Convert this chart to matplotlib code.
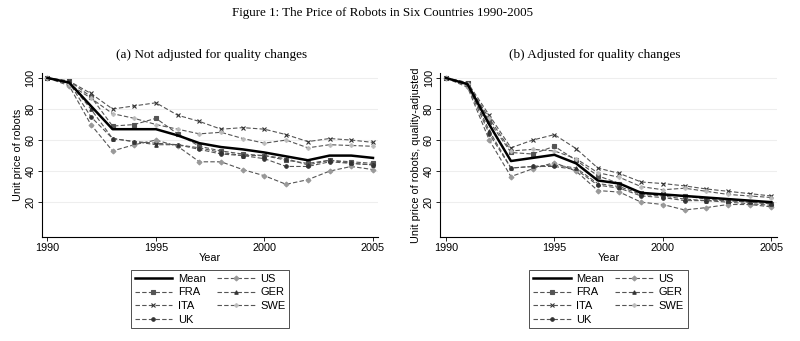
import matplotlib.pyplot as plt
import numpy as np

plt.rcParams['font.family'] = ['Liberation Sans', 'DejaVu Sans']

years = np.arange(1990, 2006)
labels = ["Mean", "FRA", "ITA", "UK", "US", "GER", "SWE"]

# (a) not adjusted
a_mean = [100, 97, 82, 67, 67, 67, 63, 58, 55.5, 54, 52, 49.5, 47, 50, 50, 48.5]
a_fra = [100, 98, 88, 69, 70, 74, 64, 56, 53, 51, 50, 47, 45, 47, 46, 45]
a_ita = [100, 98, 90, 80, 82, 84, 76, 72, 67, 68, 67, 63.5, 59, 61, 60, 58.5]
a_uk = [100, 97, 75, 61, 59, 58, 57, 54, 51, 50, 48, 43, 43, 46, 45, 44]
a_us = [100, 95, 70, 53, 57, 60, 56, 46, 46, 41, 37, 31.5, 34.5, 40, 43, 41]
a_ger = [100, 97, 80, 61, 59, 57, 57, 55, 52, 50, 50, 48, 44, 47, 45, 44]
a_swe = [100, 96, 87, 77, 74, 70, 67, 64, 65, 61, 58, 60, 55, 57, 56.5, 56]

# (b) adjusted
b_mean = [100, 96, 70, 46.5, 48.5, 50.5, 45, 34, 32, 26, 25, 24, 23, 22, 21, 20]
b_fra = [100, 97, 72, 52, 51, 56, 47, 37, 32, 26, 25, 24, 22, 21, 20, 19]
b_ita = [100, 97, 76, 55, 60, 63.5, 54.5, 42, 38.5, 33, 32, 30.5, 28.5, 27, 25.5, 24]
b_uk = [100, 95, 64, 42, 43, 43, 41, 31, 29, 24, 23, 21, 21, 20, 19, 18]
b_us = [100, 94, 60, 36.5, 41.5, 45.5, 40, 27.5, 26.5, 20, 18.5, 15, 16.5, 18.5, 18.5, 17]
b_ger = [100, 96, 66, 42, 43, 44, 42, 32, 30, 25, 24, 22, 21, 21, 20, 19]
b_swe = [100, 96, 74, 53, 54, 53, 48, 39, 36, 30, 28, 29, 27, 25, 24, 23]

styles = {
    "FRA": ("s", "#555555"),
    "ITA": ("x", "#333333"),
    "UK": ("o", "#333333"),
    "US": ("D", "#999999"),
    "GER": ("^", "#333333"),
    "SWE": ("P", "#bbbbbb"),
}

fig = plt.figure(figsize=(8, 3.41), dpi=100)
fig.text(0.478, 0.963, "Figure 1: The Price of Robots in Six Countries 1990-2005",
         ha="center", va="center", fontsize=9.4, family=["Liberation Serif"])

panels = [
    ([0.052, 0.306, 0.421, 0.48], "(a) Not adjusted for quality changes", 0.264,
     "Unit price of robots", [a_mean, a_fra, a_ita, a_uk, a_us, a_ger, a_swe]),
    ([0.55, 0.306, 0.421, 0.48], "(b) Adjusted for quality changes", 0.743,
     "Unit price of robots, quality-adjusted", [b_mean, b_fra, b_ita, b_uk, b_us, b_ger, b_swe]),
]

for pos, title, tx, ylab, series in panels:
    ax = fig.add_axes(pos)
    fig.text(tx, 0.838, title, ha="center", va="center", fontsize=9.5,
             family=["Liberation Serif"])
    for name, vals in zip(labels, series):
        if name == "Mean":
            ax.plot(years, vals, "-", color="black", lw=1.8, label=name, zorder=5)
        else:
            m, c = styles[name]
            ax.plot(years, vals, linestyle=(0, (4, 2)), color="#555555", lw=0.8,
                    marker=m, ms=2.5, mfc=c, mec=c, mew=0.8, label=name)
    ax.set_xlim(1989.73, 2005.25)
    ax.set_ylim(-2.2, 103.2)
    ax.set_xticks([1990, 1995, 2000, 2005])
    ax.set_yticks([20, 40, 60, 80, 100])
    ax.yaxis.grid(True, color="#eeeeee", lw=0.8)
    ax.set_axisbelow(True)
    for s in ["top", "right"]:
        ax.spines[s].set_visible(False)
    ax.spines["left"].set_linewidth(0.8)
    ax.spines["bottom"].set_linewidth(0.8)
    ax.tick_params(labelsize=7.8, length=3, width=0.6, pad=1.5)
    plt.setp(ax.get_yticklabels(), rotation=90, va="center")
    ax.set_xlabel("Year", fontsize=7.8, labelpad=0)
    ax.set_ylabel(ylab, fontsize=7.8, labelpad=2)
    ax.legend(loc="upper center", bbox_to_anchor=(0.5, -0.17), ncol=2, fontsize=8,
              frameon=True, fancybox=False, edgecolor="black", handlelength=3.4,
              columnspacing=1.0, labelspacing=0.32, borderpad=0.35,
              handletextpad=0.5).get_frame().set_linewidth(0.6)

plt.savefig("out.png", dpi=100)
plt.close()
